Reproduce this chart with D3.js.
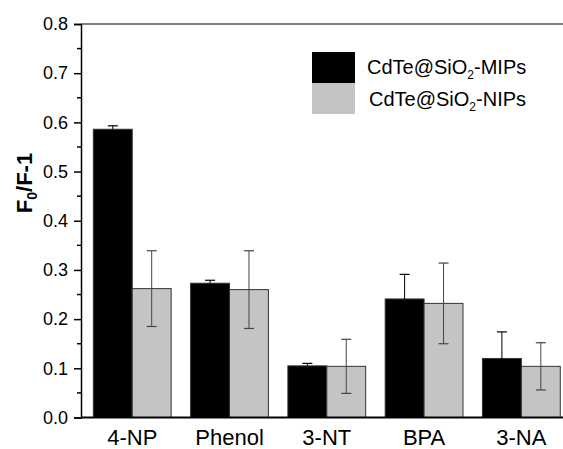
<!DOCTYPE html>
<html>
<head>
<meta charset="utf-8">
<script src="https://cdn.jsdelivr.net/npm/d3@7"></script>
<style>
  body { margin: 0; background: #fff; overflow: hidden; }
  text { font-family: Arial, "Liberation Sans", sans-serif; }
</style>
</head>
<body>
<div id="chart"></div>
<script>
'use strict'

var categories = ["4-NP", "Phenol", "3-NT", "BPA", "3-NA"];
var seriesNames = ["MIPs", "NIPs"];
var mipValues = [0.586, 0.273, 0.105, 0.241, 0.120];
var mipErrors = [0.007, 0.006, 0.005, 0.050, 0.054];
var nipValues = [0.262, 0.260, 0.104, 0.232, 0.104];
var nipErrors = [0.077, 0.079, 0.055, 0.082, 0.048];
var yTicks = [0, 0.1, 0.2, 0.3, 0.4, 0.5, 0.6, 0.7, 0.8];

var width = 563, height = 449;
var plotLeft = 81, plotRight = 570, plotTop = 24, plotBottom = 417.5;

var svg = d3.select("#chart").append("svg")
    .attr("width", width).attr("height", height).style("display", "block");

var x = d3.scaleBand().domain(categories).range([83.6, plotRight])
    .paddingInner(0.2).paddingOuter(0.1);
var xSub = d3.scaleBand().domain(seriesNames).range([0, x.bandwidth()]);
var y = d3.scaleLinear().domain([0, 0.8]).range([plotBottom, plotTop]);

var data = categories.map(function (c, i) {
    return [
        { cat: c, s: "MIPs", v: mipValues[i], e: mipErrors[i] },
        { cat: c, s: "NIPs", v: nipValues[i], e: nipErrors[i] }
    ];
});
var fill = { MIPs: "#000", NIPs: "#c4c4c4" };
var errColor = { MIPs: "#000", NIPs: "#444" };

var groups = svg.selectAll("g.grp").data(data).enter().append("g")
    .attr("class", "grp")
    .attr("transform", function (d) { return "translate(" + x(d[0].cat) + ",0)"; });

groups.selectAll("rect").data(function (d) { return d; }).enter().append("rect")
    .attr("x", function (d) { return xSub(d.s); })
    .attr("y", function (d) { return y(d.v); })
    .attr("width", xSub.bandwidth())
    .attr("height", function (d) { return plotBottom - y(d.v); })
    .attr("fill", function (d) { return fill[d.s]; })
    .attr("stroke", "#333").attr("stroke-width", 1);

// error bars: black bars only show the upper half
groups.selectAll("g.err").data(function (d) { return d; }).enter().append("g")
    .attr("class", "err")
    .each(function (d) {
        var g = d3.select(this);
        var cx = xSub(d.s) + xSub.bandwidth() / 2;
        var lowEnd = d.s === "NIPs" ? y(d.v - d.e) : y(d.v);
        g.append("line").attr("x1", cx).attr("x2", cx)
            .attr("y1", y(d.v + d.e)).attr("y2", lowEnd)
            .attr("stroke", errColor[d.s]).attr("stroke-width", 1);
        g.append("line").attr("x1", cx - 5).attr("x2", cx + 5)
            .attr("y1", y(d.v + d.e)).attr("y2", y(d.v + d.e))
            .attr("stroke", errColor[d.s]).attr("stroke-width", 1.2);
        if (d.s === "NIPs") {
            g.append("line").attr("x1", cx - 5).attr("x2", cx + 5)
                .attr("y1", y(d.v - d.e)).attr("y2", y(d.v - d.e))
                .attr("stroke", errColor[d.s]).attr("stroke-width", 1.2);
        }
    });

// y axis
var yAxis = svg.append("g").attr("transform", "translate(" + plotLeft + ",0)")
    .call(d3.axisLeft(y).tickValues(yTicks).tickFormat(d3.format(".1f")).tickSize(7).tickPadding(6));
yAxis.select(".domain").attr("stroke", "#000").attr("stroke-width", 1.5);
yAxis.selectAll(".tick line").attr("stroke", "#000").attr("stroke-width", 1.5);
yAxis.selectAll("text").attr("font-size", 18).attr("fill", "#000");

var minor = d3.range(0.05, 0.8, 0.1);
svg.append("g").selectAll("line").data(minor).enter().append("line")
    .attr("x1", plotLeft - 4).attr("x2", plotLeft)
    .attr("y1", function (d) { return y(d); }).attr("y2", function (d) { return y(d); })
    .attr("stroke", "#000").attr("stroke-width", 1.5);

// x axis
var xAxis = svg.append("g").attr("transform", "translate(0," + plotBottom + ")")
    .call(d3.axisBottom(x).tickSize(0).tickPadding(13));
xAxis.select(".domain").attr("d", "M" + plotLeft + ",0H" + width)
    .attr("stroke", "#000").attr("stroke-width", 2);
xAxis.selectAll("text").attr("font-size", 22).attr("fill", "#000")
    .attr("dy", null).attr("y", 27);

// top frame
svg.append("line").attr("x1", plotLeft).attr("x2", width)
    .attr("y1", plotTop).attr("y2", plotTop).attr("stroke", "#000").attr("stroke-width", 1);

// y title
var yt = svg.append("text")
    .attr("transform", "translate(32,183) rotate(-90)")
    .attr("text-anchor", "middle").attr("font-size", 22).attr("font-weight", "bold");
yt.append("tspan").text("F");
yt.append("tspan").attr("font-size", 14).attr("dy", 5).text("0");
yt.append("tspan").attr("dy", -5).text("/F-1");

// legend
var legend = svg.append("g");
seriesNames.forEach(function (s, i) {
    legend.append("rect").attr("x", 312).attr("y", 52 + i * 31)
        .attr("width", 43).attr("height", 31).attr("fill", fill[s]);
    var t = legend.append("text").attr("x", 367 + i * 2).attr("y", 74 + i * 32)
        .attr("font-size", 20).attr("fill", "#000");
    t.append("tspan").text("CdTe@SiO");
    t.append("tspan").attr("font-size", 12).attr("dy", 5).text("2");
    t.append("tspan").attr("dy", -5).text("-" + s);
});
</script>
</body>
</html>
